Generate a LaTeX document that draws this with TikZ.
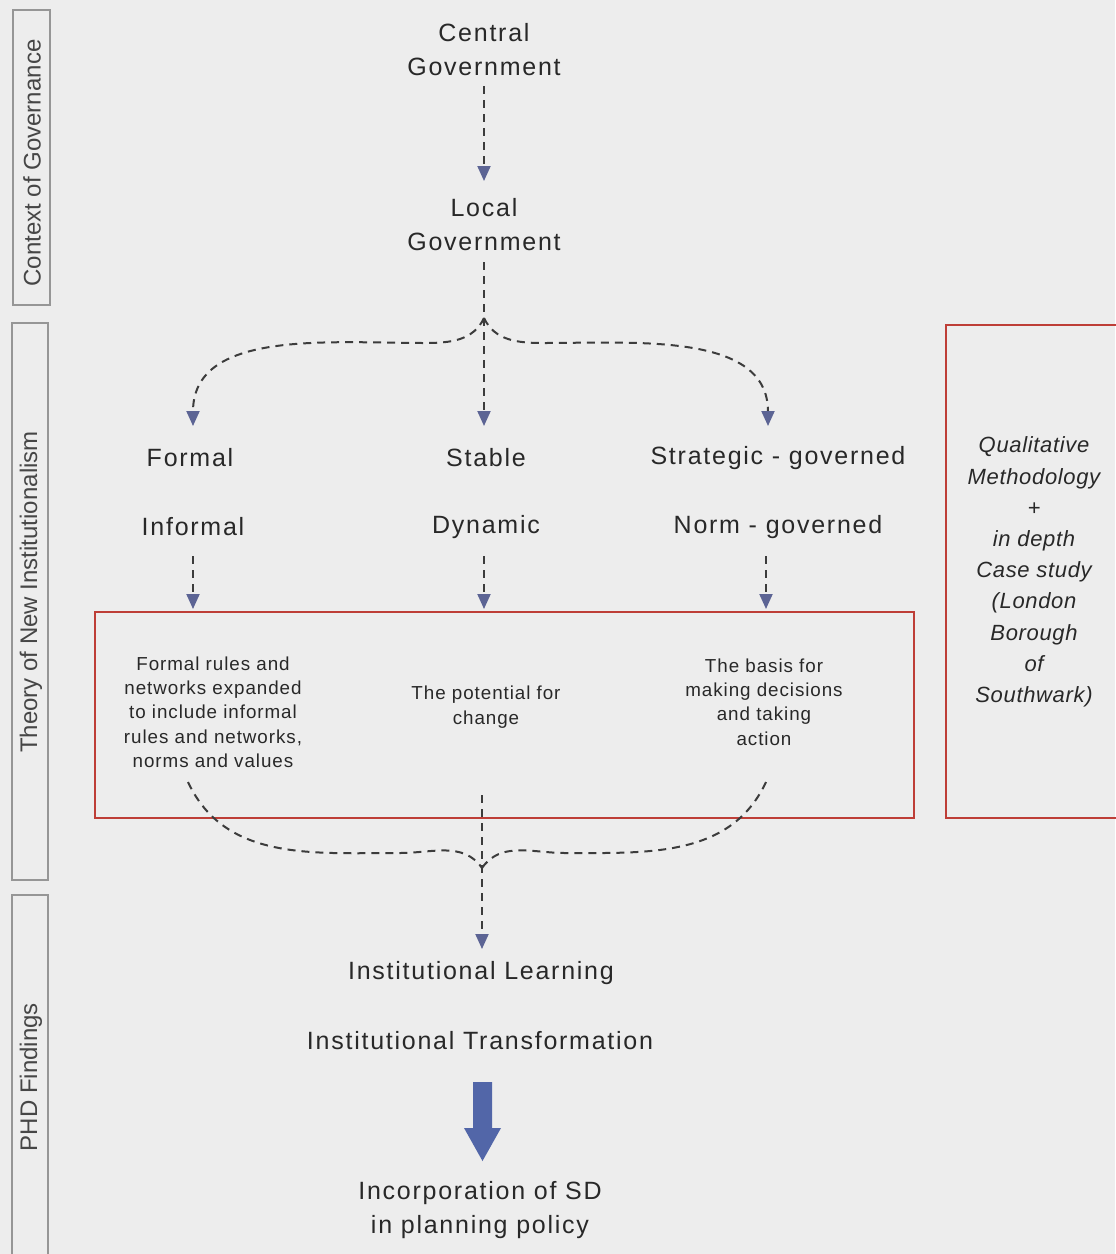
\documentclass[tikz,border=0pt]{standalone}
\usepackage{fontspec}
\setmainfont{Liberation Sans}
\newfontfamily\widesans[LetterSpace=7]{Liberation Sans}
\newfontfamily\smallsans[LetterSpace=5]{Liberation Sans}
\newfontfamily\methsans[LetterSpace=3]{Liberation Sans}
\usetikzlibrary{arrows.meta}
\definecolor{bgcol}{RGB}{237,237,237}
\definecolor{txtcol}{RGB}{40,40,40}
\definecolor{sidecol}{RGB}{70,70,70}
\definecolor{framecol}{RGB}{150,150,150}
\definecolor{redframe}{RGB}{190,62,55}
\definecolor{tipcol}{RGB}{92,100,148}
\definecolor{blockcol}{RGB}{82,102,168}
\definecolor{dashcol}{RGB}{60,60,60}
\tikzset{
  mainlabel/.style={text=txtcol,align=center,inner sep=0pt,font=\widesans\fontsize{12.5}{17}\selectfont},
  smalltext/.style={text=txtcol,align=center,inner sep=0pt,font=\smallsans\fontsize{9.4}{12.15}\selectfont},
  methtext/.style={text=txtcol,align=center,inner sep=0pt,font=\methsans\fontsize{11}{15.6}\selectfont\itshape},
  sidelabel/.style={text=sidecol,rotate=90,inner sep=0pt,font=\fontsize{12}{14}\selectfont},
  sideframe/.style={draw=framecol,line width=0.6pt},
  redbox/.style={draw=redframe,line width=1.2pt},
  flow/.style={draw=dashcol,line width=1pt,dash pattern=on 4pt off 3pt,
    -{Triangle[length=7.5pt,width=6.5pt,fill=tipcol,color=tipcol]}},
  flowplain/.style={draw=dashcol,line width=1pt,dash pattern=on 4pt off 3pt},
}
\begin{document}
\begin{tikzpicture}[x=0.5pt,y=-0.5pt]
  % page and background
  \fill[bgcol] (0,0) rectangle (1115,1254);
  \useasboundingbox (0,0) rectangle (1115,1254);

  % side panels
  \draw[sideframe] (13,10) rectangle (50,305);
  \node[sidelabel] (ctx) at (32,163) {Context of Governance};
  \draw[sideframe] (12,323) rectangle (48,880);
  \node[sidelabel] (theory) at (31,592) {Theory of New Institutionalism};
  \draw[sideframe] (48,1262) -- (48,895) -- (12,895) -- (12,1262);
  \node[sidelabel] (phd) at (31,1077) {PHD Findings};

  % governance levels
  \node[mainlabel] (cg) at (484,50) {Central\\Government};
  \node[mainlabel] (lg) at (484,225) {Local\\Government};

  % dimensions
  \node[mainlabel] (formal) at (190,458) {Formal};
  \node[mainlabel] (stable) at (486,458) {Stable};
  \node[mainlabel] (strat) at (778,458) {Strategic - governed};
  \node[mainlabel] (informal) at (193,527) {Informal};
  \node[mainlabel] (dynamic) at (486,527) {Dynamic};
  \node[mainlabel] (norm) at (778,527) {Norm - governed};

  % red frame with the three explanations
  \draw[redbox] (95,612) rectangle (914,818);
  \node[smalltext] (ruleset) at (213,712) {Formal rules and\\networks expanded\\to include informal\\rules and networks,\\norms and values};
  \node[smalltext] (potential) at (486,707) {The potential for\\change};
  \node[smalltext] (basis) at (764,702) {The basis for\\making decisions\\and taking\\action};

  % methodology frame (runs off the right edge)
  \draw[redbox] (1125,325) -- (946,325) -- (946,818) -- (1125,818);
  \node[methtext] (method) at (1034,572) {Qualitative\\Methodology\\+\\in depth\\Case study\\(London\\Borough\\of\\Southwark)};

  % findings
  \node[mainlabel] (learn) at (481,973) {Institutional Learning};
  \node[mainlabel] (transf) at (480,1041) {Institutional Transformation};
  \node[mainlabel] (incorp) at (480,1210) {Incorporation of SD\\in planning policy};

  % connector anchor points
  \coordinate (cgout) at (484,86);
  \coordinate (lgin) at (484,181);
  \coordinate (lgout) at (484,262);
  \coordinate (split) at (484,318);
  \coordinate (tfor) at (193,426);
  \coordinate (tsta) at (484,426);
  \coordinate (tstr) at (768,426);
  \coordinate (sfor) at (193,556);
  \coordinate (ssta) at (484,556);
  \coordinate (sstr) at (766,556);
  \coordinate (bfor) at (193,609);
  \coordinate (bsta) at (484,609);
  \coordinate (bstr) at (766,609);
  \coordinate (ofor) at (188,782);
  \coordinate (osta) at (482,795);
  \coordinate (ostr) at (766,782);
  \coordinate (merge) at (482,868);
  \coordinate (tlearn) at (482,949);

  % dashed flow connectors
  \draw[flow] (cgout) -- (lgin);
  \draw[flow] (lgout) -- (tsta);
  \draw[flow] (split) to[out=-115,in=0] (425,343) to[out=180,in=90] (tfor);
  \draw[flow] (split) to[out=-65,in=180] (543,343) to[out=0,in=90] (tstr);
  \draw[flow] (sfor) -- (bfor);
  \draw[flow] (ssta) -- (bsta);
  \draw[flow] (sstr) -- (bstr);
  \draw[flowplain] (ofor) to[out=-65,in=180] (400,853) to[out=0,in=125] (merge);
  \draw[flowplain] (ostr) to[out=-115,in=0] (565,853) to[out=180,in=55] (merge);
  \draw[flow] (osta) -- (tlearn);

  % block arrow towards the outcome
  \fill[blockcol] (473,1082) -- (492,1082) -- (492,1128) -- (501,1128)
    -- (482.5,1161) -- (464,1128) -- (473,1128) -- cycle;
\end{tikzpicture}
\end{document}
